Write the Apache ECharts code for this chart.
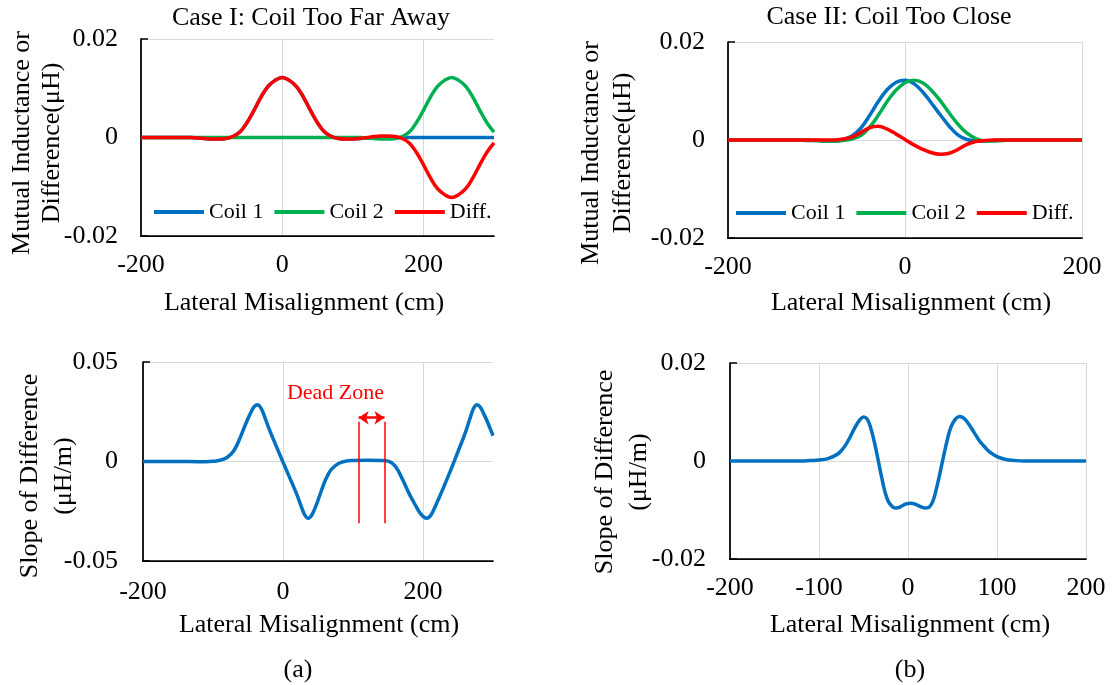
<!DOCTYPE html>
<html>
<head>
<meta charset="utf-8">
<script src="https://cdn.jsdelivr.net/npm/echarts@6.0.0/dist/echarts.min.js"></script>
<style>
    html, body { margin: 0; padding: 0; background: #fff; }
    #chart { width: 1113px; height: 685px; }
</style>
</head>
<body>
<div id="chart"></div>
<script>
// lateral misalignment samples (cm)
var xCase1 = [-200, -190, -180, -170, -160, -150, -140, -130, -120, -110, -100, -90, -80, -70, -60, -50, -40, -30, -20, -10,
    0, 10, 20, 30, 40, 50, 60, 70, 80, 90, 100, 110, 120, 130, 140, 150, 160, 170, 180, 190,
    200, 210, 220, 230, 240, 250, 260, 270, 280, 290, 300];
var xCase2 = [-200, -190, -180, -170, -160, -150, -140, -130, -120, -110, -100, -90, -80, -70, -60, -50, -40, -30, -20, -10,
    0, 10, 20, 30, 40, 50, 60, 70, 80, 90, 100, 110, 120, 130, 140, 150, 160, 170, 180, 190, 200];

// Case I: coil too far away (uH)
var coil1Case1 = [0, 0, 0, 0, 0, 0, 0, 0, -0.0001, -0.0002, -0.0003, -0.0003, -0.0002, 0.0002, 0.0011, 0.0030, 0.0055, 0.0082, 0.0104, 0.0116,
    0.0122, 0.0116, 0.0104, 0.0082, 0.0055, 0.0030, 0.0011, 0.0002, -0.0002, -0.0003, -0.0003, -0.0002, -0.0001, 0, 0, 0, 0, 0, 0, 0,
    0, 0, 0, 0, 0, 0, 0, 0, 0, 0, 0];
var coil2Case1 = [0, 0, 0, 0, 0, 0, 0, 0, 0, 0, 0, 0, 0, 0, 0, 0, 0, 0, 0, 0,
    0, 0, 0, 0, 0, 0, 0, 0, 0, 0, 0, 0, -0.0001, -0.0002, -0.0003, -0.0003, -0.0002, 0.0002, 0.0011, 0.0030,
    0.0055, 0.0082, 0.0104, 0.0116, 0.0122, 0.0116, 0.0104, 0.0082, 0.0055, 0.0030, 0.0011];
var diffCase1 = [0, 0, 0, 0, 0, 0, 0, 0, -0.0001, -0.0002, -0.0003, -0.0003, -0.0002, 0.0002, 0.0011, 0.0030, 0.0055, 0.0082, 0.0104, 0.0116,
    0.0122, 0.0116, 0.0104, 0.0082, 0.0055, 0.0030, 0.0011, 0.0002, -0.0002, -0.0003, -0.0003, -0.0002, 0.0000, 0.0002, 0.0003, 0.0003, 0.0002, -0.0002, -0.0011, -0.0030,
    -0.0055, -0.0082, -0.0104, -0.0116, -0.0122, -0.0116, -0.0104, -0.0082, -0.0055, -0.0030, -0.0011];

// Case II: coil too close (uH)
var coil1Case2 = [0, 0, 0, 0, 0, 0, 0, 0, 0, -0.0001, -0.0001, -0.0002, -0.0002, 0.0001, 0.0008, 0.0024, 0.0050, 0.0079, 0.0103, 0.0118,
    0.0122, 0.0115, 0.0098, 0.0075, 0.0051, 0.0028, 0.0010, 0.0001, -0.0002, -0.0002, -0.0001, 0, 0, 0, 0, 0, 0, 0, 0, 0, 0];
var coil2Case2 = [0, 0, 0, 0, 0, 0, 0, 0, 0, 0, -0.0001, -0.0002, -0.0002, -0.0001, 0.0002, 0.0009, 0.0026, 0.0051, 0.0079, 0.0102,
    0.0117, 0.0122, 0.0117, 0.0101, 0.0080, 0.0055, 0.0032, 0.0014, 0.0003, -0.0002, -0.0002, -0.0001, 0, 0, 0, 0, 0, 0, 0, 0, 0];
var diffCase2 = [0, 0, 0, 0, 0, 0, 0, 0, 0, 0, 0, 0, 0, 0.0002, 0.0006, 0.0015, 0.0025, 0.0028, 0.0022, 0.0012,
    0.0001, -0.0010, -0.0019, -0.0026, -0.0029, -0.0027, -0.0019, -0.0009, -0.0003, -0.0001, 0, 0, 0, 0, 0, 0, 0, 0, 0, 0, 0];

// slope of difference (uH/m)
var xSlope1 = [-200, -150, -120, -110, -100, -90, -80, -70, -60, -52, -47, -42, -37, -32, -27, -20, -10, 0, 10, 20,
    26, 31, 36, 41, 46, 50, 55, 60, 65, 70, 80, 90, 100, 120, 140, 150, 160, 170, 180, 190,
    195, 200, 205, 210, 215, 222, 230, 240, 250, 260, 267, 272, 277, 282, 287, 292, 300];
var ySlope1 = [0, 0, -0.0001, -0.0001, 0.0001, 0.0006, 0.0020, 0.0055, 0.0130, 0.0200, 0.0238, 0.0272, 0.0285, 0.0272, 0.0232, 0.0165, 0.0080, -0.0003, -0.0085, -0.0168,
    -0.0225, -0.0268, -0.0285, -0.0270, -0.0232, -0.0195, -0.0145, -0.0098, -0.0062, -0.0036, -0.0009, 0.0002, 0.0005, 0.0006, 0.0005, 0.0002, -0.0022, -0.0085, -0.0160, -0.0225,
    -0.0255, -0.0276, -0.0285, -0.0275, -0.0245, -0.0190, -0.0125, -0.0040, 0.0050, 0.0140, 0.0215, 0.0265, 0.0285, 0.0272, 0.0238, 0.0200, 0.0130];
var xSlope2 = [-200, -150, -120, -110, -100, -90, -80, -75, -70, -65, -60, -55, -50, -46, -42, -38, -34, -30, -26, -22,
    -17, -13, -8, -3, 3, 8, 14, 20, 24, 28, 32, 36, 40, 44, 48, 53, 58, 63, 68, 74,
    80, 86, 92, 100, 110, 120, 130, 150, 200];
var ySlope2 = [0, 0, 0, 0.0001, 0.0002, 0.0005, 0.0013, 0.0021, 0.0033, 0.0049, 0.0067, 0.0082, 0.0090, 0.0086, 0.0068, 0.0040, 0.0006, -0.0030, -0.0062, -0.0083,
    -0.0094, -0.0096, -0.0093, -0.0088, -0.0086, -0.0088, -0.0093, -0.0096, -0.0094, -0.0082, -0.0056, -0.0024, 0.0010, 0.0042, 0.0068, 0.0085, 0.0091, 0.0087, 0.0076, 0.0059,
    0.0042, 0.0029, 0.0018, 0.0009, 0.0003, 0.0001, 0, 0, 0];

// dead zone annotation (cm / uH/m)
var deadZone = [108, 145];
var deadZoneSpan = [0.020, -0.031];
var deadZoneArrowY = 0.022;
var deadZoneLabel = [75, 0.0345];

var FONT = '"Liberation Serif", "Times New Roman", serif';
var BLUE = '#0070C0', GREEN = '#00B050', RED = '#FF0000';

function pairs(xs, ys) {
    return xs.map(function (x, i) { return [x, ys[i]]; });
}

function xAxisOf(grid, min, max, interval, margin, showMax) {
    return {
        type: 'value', gridIndex: grid, min: min, max: max, interval: interval,
        axisLine: { show: true, onZero: false, lineStyle: { color: '#000', width: 1.75 } },
        axisTick: { show: false },
        axisLabel: {
            margin: margin, color: '#000', fontSize: 26, fontFamily: FONT,
            formatter: function (v) { return v % interval === 0 ? String(v) : ''; }
        },
        splitLine: { show: true, showMaxLine: showMax, lineStyle: { color: '#d9d9d9', width: 1 } }
    };
}

function yAxisOf(grid, min, max, interval, margin) {
    return {
        type: 'value', gridIndex: grid, min: min, max: max, interval: interval,
        axisLine: { show: true, onZero: false, lineStyle: { color: '#000', width: 1.75 } },
        axisTick: { show: true, inside: true, length: 7, lineStyle: { color: '#000', width: 1.5 } },
        axisLabel: { margin: margin, color: '#000', fontSize: 26, fontFamily: FONT },
        splitLine: { show: true, lineStyle: { color: '#d9d9d9', width: 1 } }
    };
}

function lineOf(name, xi, data, color) {
    return {
        name: name, type: 'line', xAxisIndex: xi, yAxisIndex: xi, data: data,
        symbol: 'none', showSymbol: false, smooth: 0.4,
        lineStyle: { color: color, width: 3.5 },
        itemStyle: { color: color }
    };
}

function label(text, x, y, opts) {
    opts = opts || {};
    return {
        type: 'text', x: x, y: y, rotation: opts.rotate ? Math.PI / 2 : 0,
        style: {
            text: text, x: 0, y: 0, fill: '#000', align: 'center', verticalAlign: 'middle',
            font: (opts.size || 26) + 'px ' + FONT, lineHeight: opts.lh || 30
        }
    };
}

var slope1 = lineOf('Slope I', 2, pairs(xSlope1, ySlope1), BLUE);
slope1.markLine = {
    silent: true, symbol: ['none', 'none'], animation: false,
    label: { show: false },
    lineStyle: { color: RED, width: 1.5, type: 'solid' },
    data: [
        [{ coord: [deadZone[0], deadZoneSpan[0]] }, { coord: [deadZone[0], deadZoneSpan[1]] }],
        [{ coord: [deadZone[1], deadZoneSpan[0]] }, { coord: [deadZone[1], deadZoneSpan[1]] }],
        [{ coord: [deadZone[0], deadZoneArrowY], symbol: 'arrow', symbolSize: 10, lineStyle: { width: 2.5 } },
         { coord: [deadZone[1], deadZoneArrowY], symbol: 'arrow', symbolSize: 10 }]
    ]
};
slope1.markPoint = {
    silent: true, animation: false,
    data: [{
        coord: deadZoneLabel, symbol: 'rect', symbolSize: 1, itemStyle: { color: 'rgba(0,0,0,0)' },
        label: { show: true, position: 'inside', formatter: 'Dead Zone', color: RED, fontSize: 22, fontFamily: FONT }
    }]
};

var chart = echarts.init(document.getElementById('chart'));
chart.setOption({
    animation: false,
    backgroundColor: '#fff',
    grid: [
        { left: 141, top: 39, width: 353, height: 197 },
        { left: 728, top: 42, width: 354, height: 196 },
        { left: 143, top: 362, width: 350, height: 199 },
        { left: 730, top: 363, width: 356, height: 196 }
    ],
    xAxis: [
        xAxisOf(0, -200, 300, 200, 16, false),
        xAxisOf(1, -200, 200, 200, 16, true),
        xAxisOf(2, -200, 300, 200, 18, false),
        xAxisOf(3, -200, 200, 100, 16, true)
    ],
    yAxis: [
        yAxisOf(0, -0.02, 0.02, 0.02, 23),
        yAxisOf(1, -0.02, 0.02, 0.02, 23),
        yAxisOf(2, -0.05, 0.05, 0.05, 25),
        yAxisOf(3, -0.02, 0.02, 0.02, 24)
    ],
    legend: [
        { left: 154, top: 201, data: ['Coil 1', 'Coil 2', 'Diff.'], icon: 'rect', itemWidth: 50, itemHeight: 4, itemGap: 11, padding: 0,
          textStyle: { color: '#000', fontSize: 22, fontFamily: FONT } },
        { left: 736, top: 202, data: ['Coil 1', 'Coil 2', 'Diff.'], icon: 'rect', itemWidth: 50, itemHeight: 4, itemGap: 11, padding: 0,
          textStyle: { color: '#000', fontSize: 22, fontFamily: FONT } }
    ],
    graphic: [
        label('Case I: Coil Too Far Away', 311, 18),
        label('Case II: Coil Too Close', 889, 17),
        label('Mutual Inductance or\nDifference(μH)', 37, 143, { rotate: true, lh: 30.5 }),
        label('Mutual Inductance or\nDifference(μH)', 607, 153, { rotate: true, lh: 32 }),
        label('Slope of Difference\n(μH/m)', 47, 476, { rotate: true, lh: 34 }),
        label('Slope of Difference\n(μH/m)', 622, 472, { rotate: true, lh: 33.5 }),
        label('Lateral Misalignment (cm)', 304, 303),
        label('Lateral Misalignment (cm)', 911, 303),
        label('Lateral Misalignment (cm)', 319, 625),
        label('Lateral Misalignment (cm)', 910, 625),
        label('(a)', 298, 670),
        label('(b)', 910, 670)
    ],
    series: [
        lineOf('Coil 1', 0, pairs(xCase1, coil1Case1), BLUE),
        lineOf('Coil 2', 0, pairs(xCase1, coil2Case1), GREEN),
        lineOf('Diff.', 0, pairs(xCase1, diffCase1), RED),
        lineOf('Coil 1', 1, pairs(xCase2, coil1Case2), BLUE),
        lineOf('Coil 2', 1, pairs(xCase2, coil2Case2), GREEN),
        lineOf('Diff.', 1, pairs(xCase2, diffCase2), RED),
        slope1,
        lineOf('Slope II', 3, pairs(xSlope2, ySlope2), BLUE)
    ]
});
</script>
</body>
</html>
